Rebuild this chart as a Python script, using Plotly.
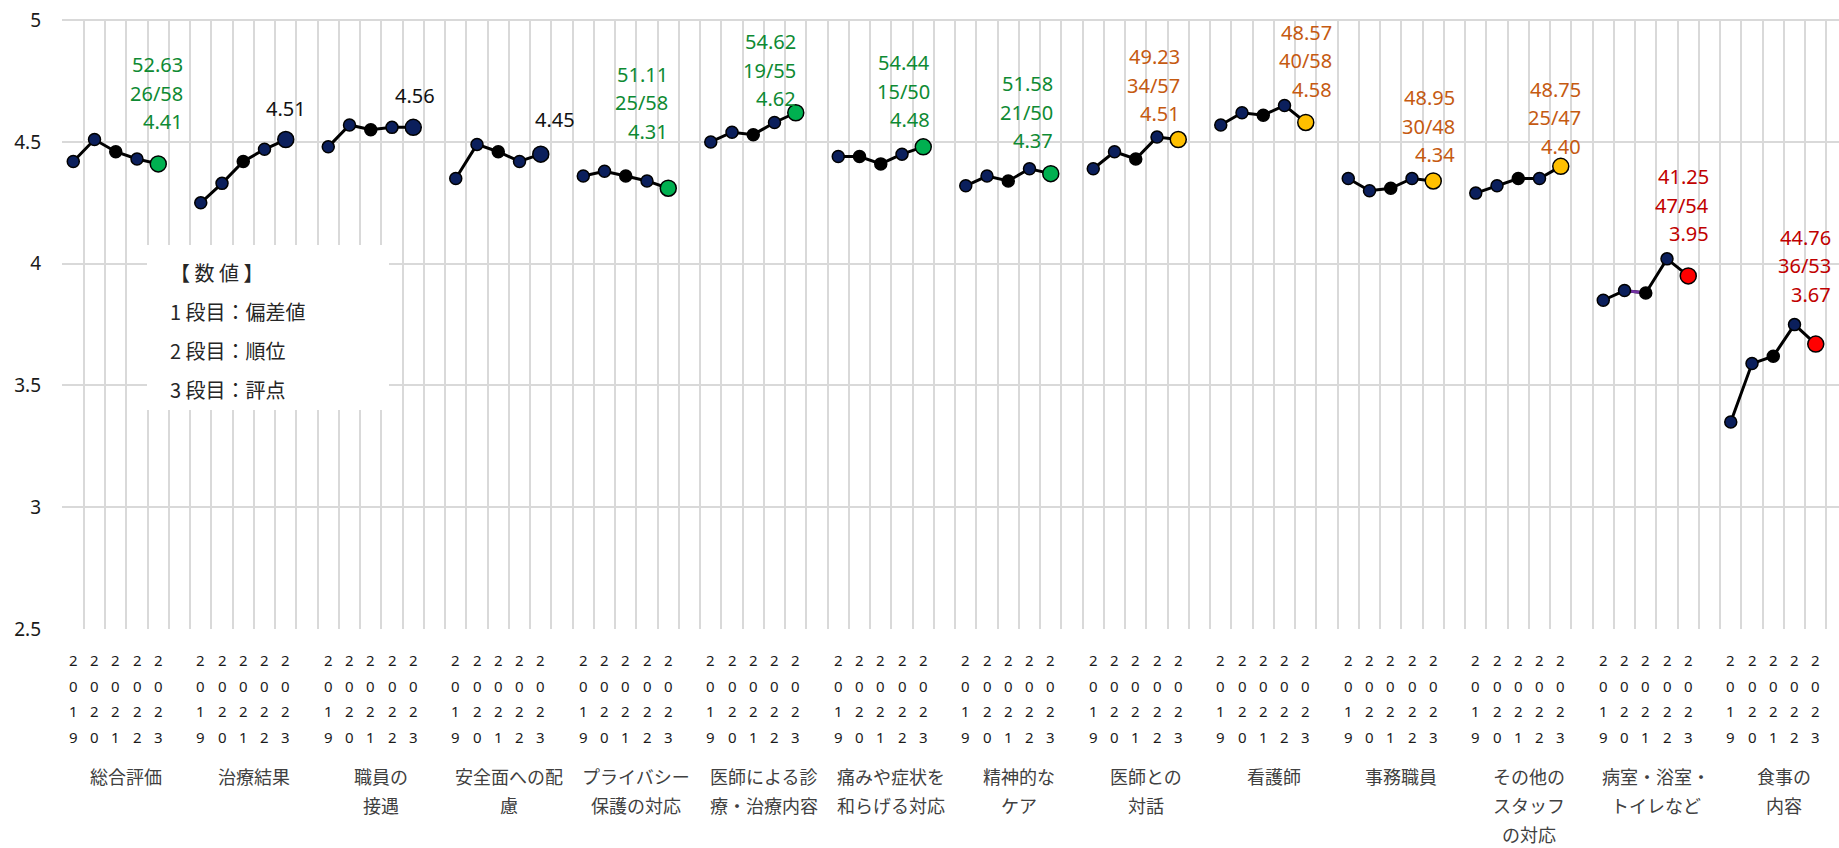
import plotly.graph_objects as go

# ---------------- data ----------------
categories = ["総合評価", "治療結果", "職員の接遇", "安全面への配慮", "プライバシー保護の対応",
              "医師による診療・治療内容", "痛みや症状を和らげる対応", "精神的なケア", "医師との対話",
              "看護師", "事務職員", "その他のスタッフの対応", "病室・浴室・トイレなど", "食事の内容"]
category_lines = [["総合評価"], ["治療結果"], ["職員の", "接遇"], ["安全面への配", "慮"],
                  ["プライバシー", "保護の対応"], ["医師による診", "療・治療内容"],
                  ["痛みや症状を", "和らげる対応"], ["精神的な", "ケア"], ["医師との", "対話"],
                  ["看護師"], ["事務職員"], ["その他の", "スタッフ", "の対応"],
                  ["病室・浴室・", "トイレなど"], ["食事の", "内容"]]
years = ["2019", "2020", "2021", "2022", "2023"]

score_2019 = [4.42, 4.25, 4.48, 4.35, 4.36, 4.50, 4.44, 4.32, 4.39, 4.57, 4.35, 4.29, 3.85, 3.35]
score_2020 = [4.51, 4.33, 4.57, 4.49, 4.38, 4.54, 4.44, 4.36, 4.46, 4.62, 4.30, 4.32, 3.89, 3.59]
score_2021 = [4.46, 4.42, 4.55, 4.46, 4.36, 4.53, 4.41, 4.34, 4.43, 4.61, 4.31, 4.35, 3.88, 3.62]
score_2022 = [4.43, 4.47, 4.56, 4.42, 4.34, 4.58, 4.45, 4.39, 4.52, 4.65, 4.35, 4.35, 4.02, 3.75]
score_2023 = [4.41, 4.51, 4.56, 4.45, 4.31, 4.62, 4.48, 4.37, 4.51, 4.58, 4.34, 4.40, 3.95, 3.67]

deviation = [52.63, None, None, None, 51.11, 54.62, 54.44, 51.58, 49.23, 48.57, 48.95, 48.75, 41.25, 44.76]
rank = [26, None, None, None, 25, 19, 15, 21, 34, 40, 30, 25, 47, 36]
rank_total = [58, None, None, None, 58, 55, 50, 50, 57, 58, 48, 47, 54, 53]

y_ticks = [2.5, 3, 3.5, 4, 4.5, 5]
box_lines = ["【 数 値 】", "1 段目：偏差値", "2 段目：順位", "3 段目：評点"]

# ---------------- style ----------------
NAVY = "#0B1F5C"
GRID = "#D9D9D9"
FONT = "Noto Sans, Noto Sans CJK JP, sans-serif"
JFONT = "Noto Sans CJK JP, Noto Sans, sans-serif"
# label offsets in px (dx to right edge, dy of last line above point)
label_dx = [27, 22, 24, 36, 2, 2, 9, 4, 4, 28, 24, 22, 23, 17]
label_dy = [34, 23, 24, 27, 49, 6, 19, 25, 18, 25, 18, 12, 34, 42]
LINE_STEP = 28.5


def tier(d):
    if d is None:
        return NAVY, "#111111"
    if d >= 50:
        return "#00B050", "#0E8A33"
    if d >= 45:
        return "#FFC000", "#C55A11"
    return "#FF0000", "#C00000"


all_scores = [score_2019, score_2020, score_2021, score_2022, score_2023]
SLOTS = 6

fig = go.Figure()
annotations = []

for g, cat in enumerate(categories):
    xs = [SLOTS * g + j for j in range(len(years))]
    ys = [s[g] for s in all_scores]
    last_color, label_color = tier(deviation[g])
    colors = [NAVY, NAVY, "#000000", NAVY, last_color]
    if g == 6:
        colors[1] = "#000000"
    sizes = [12, 12, 12, 12, 16]
    fig.add_trace(go.Scatter(
        x=xs, y=ys, mode="lines", line=dict(color="#000000", width=3),
        hoverinfo="skip", showlegend=False))
    if g == 12:
        fig.add_trace(go.Scatter(
            x=xs[1:3], y=ys[1:3], mode="lines", line=dict(color="#7030A0", width=3),
            hoverinfo="skip", showlegend=False))
    fig.add_trace(go.Scatter(
        x=xs, y=ys, mode="markers", name=cat,
        marker=dict(color=colors, size=sizes, opacity=1,
                    line=dict(color="#000000", width=1.5)),
        showlegend=False))

    # data labels
    if deviation[g] is None:
        lines = [f"{ys[-1]:.2f}"]
    else:
        lines = [f"{deviation[g]:.2f}", f"{rank[g]}/{rank_total[g]}", f"{ys[-1]:.2f}"]
    for k, txt in enumerate(reversed(lines)):
        annotations.append(dict(
            x=xs[-1], y=ys[-1], xref="x", yref="y", text=txt, showarrow=False,
            xanchor="right", yanchor="middle", xshift=label_dx[g],
            yshift=label_dy[g] + 8 + k * LINE_STEP,
            font=dict(family=FONT, size=20, color=label_color)))

    # year digit labels
    for j, yr in enumerate(years):
        for r, ch in enumerate(yr):
            annotations.append(dict(
                x=xs[j], y=0, xref="x", yref="paper", text=ch, showarrow=False,
                xanchor="center", yanchor="middle", yshift=-31 - r * 25.7,
                font=dict(family=FONT, size=15, color="#1a1a1a")))

    # category name
    for r, ln in enumerate(category_lines[g]):
        annotations.append(dict(
            x=SLOTS * g + 2.5, y=0, xref="x", yref="paper", text=ln, showarrow=False,
            xanchor="center", yanchor="middle", yshift=-147 - r * 29,
            font=dict(family=JFONT, size=18, color="#404040")))

# info box text
for r, ln in enumerate(box_lines):
    annotations.append(dict(
        x=(168 - 62) / 1777, y=(629 - 272) / 610, xref="paper", yref="paper",
        text=ln, showarrow=False, xanchor="left", yanchor="middle", yshift=-r * 39.3,
        font=dict(family=JFONT, size=20, color="#262626")))

fig.update_layout(
    width=1839, height=848,
    margin=dict(l=62, r=0, t=19, b=219, autoexpand=False),
    paper_bgcolor="white", plot_bgcolor="white",
    annotations=annotations,
    shapes=[dict(type="rect", xref="paper", yref="paper",
                 x0=(147 - 62) / 1777, x1=(389 - 62) / 1777,
                 y0=(629 - 410) / 610, y1=(629 - 245) / 610,
                 fillcolor="white", line=dict(width=0), layer="above")],
    xaxis=dict(range=[-0.53, -0.53 + 1777 / 21.25], tickmode="linear", tick0=-0.5, dtick=1,
               showgrid=True, gridcolor=GRID, gridwidth=2, showticklabels=False,
               zeroline=False, showline=False, ticks="", automargin=False),
    yaxis=dict(range=[2.5, 5.005], tickmode="array", tickvals=y_ticks,
               ticktext=[f"{v:g}" for v in y_ticks], showgrid=False,
               zeroline=False, showline=False, ticks="", ticklabelstandoff=20,
               automargin=False,
               tickfont=dict(family=FONT, size=19, color="#1a1a1a"),
               minor=dict(tickmode="array", tickvals=y_ticks[1:], showgrid=True,
                          gridcolor=GRID, gridwidth=2, ticks="")),
)

fig.write_html("out.html", config={"displayModeBar": False},
               post_script="document.body.style.margin='0';document.body.style.overflow='hidden';")
